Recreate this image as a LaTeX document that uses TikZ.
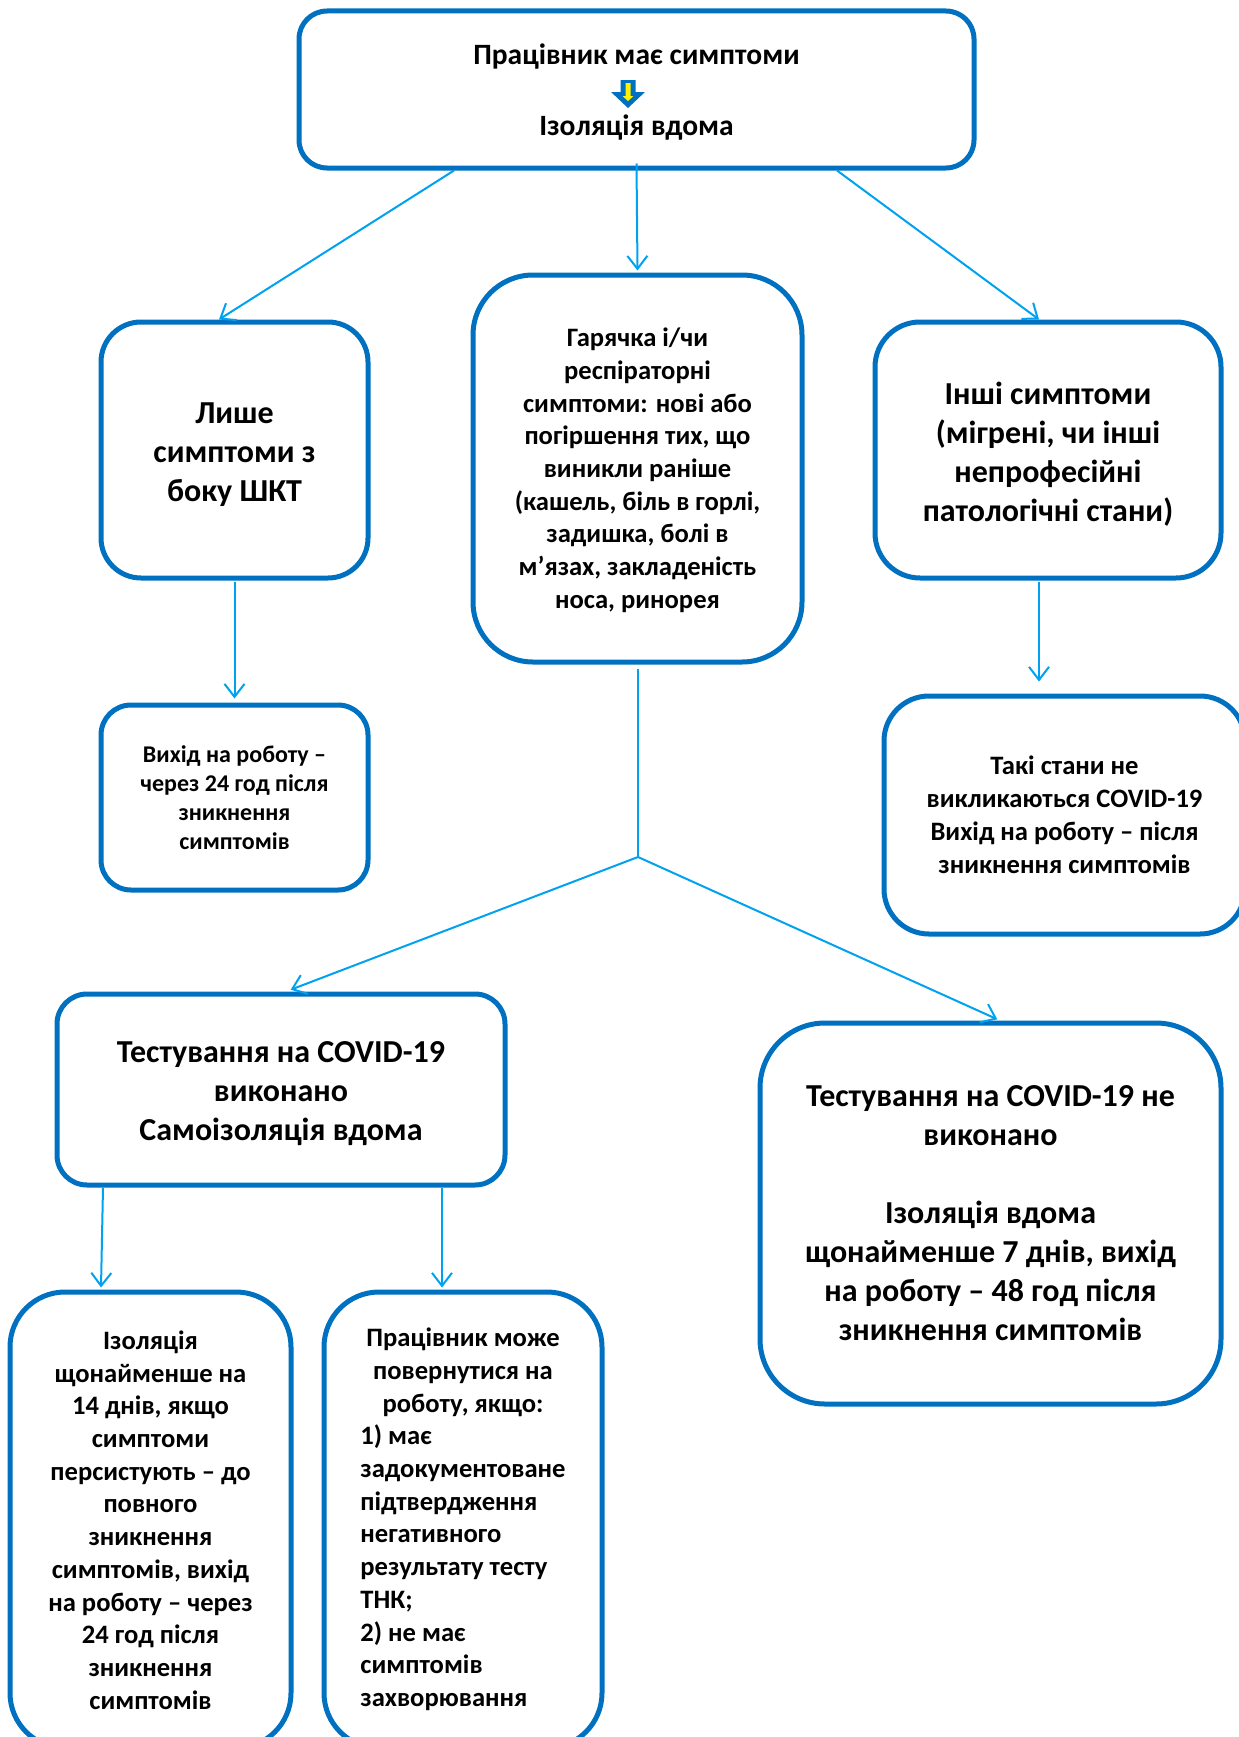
\documentclass[tikz,border=0pt]{standalone}
\usepackage{fontspec}
\setmainfont{Carlito}
\usetikzlibrary{arrows.meta}
\definecolor{boxblue}{RGB}{0,112,192}
\definecolor{linkblue}{RGB}{0,162,240}
\tikzset{
  box/.style={draw=boxblue, line width=5pt, rounded corners=#1, fill=white,
    align=center, inner sep=0pt},
  conn/.style={draw=linkblue, line width=2pt},
  arr/.style={conn, -{Straight Barb[length=13pt,width=20pt]}},
  bigtext/.style={font=\bfseries\fontsize{32}{39}\selectfont},
  midtext/.style={font=\bfseries\fontsize{26.6}{32.7}\selectfont},
  smalltext/.style={font=\bfseries\fontsize{24}{29}\selectfont},
}
\begin{document}
\begin{tikzpicture}[x=1pt,y=-1pt]
\path[use as bounding box] (0,0) rectangle (1239,1737);
\clip (0,0) rectangle (1239,1737);

% header box
\node[box=28pt, minimum width=675pt, minimum height=157pt,
      font=\bfseries\fontsize{29.5}{71}\selectfont] (top) at (636.5,89.5)
  {\rule{0pt}{25pt}Працівник має симптоми\\Ізоляція вдома};
\fill[boxblue] (620.5,80) -- (635.5,80) -- (635.5,92) -- (645,92) -- (628,108)
  -- (611,92) -- (620.5,92) -- cycle;
\fill[yellow] (625.5,83) -- (630.5,83) -- (630.5,96) -- (633.5,96) -- (628,101)
  -- (622.5,96) -- (625.5,96) -- cycle;

% symptom groups
\node[box=40pt, bigtext, minimum width=267pt, minimum height=256pt] (gi) at (234.5,450)
  {\rule{0pt}{30pt}Лише\\симптоми з\\боку ШКТ};
\node[box=60pt, midtext, minimum width=329pt, minimum height=387pt] (mid) at (637.5,468.5)
  {\rule{0pt}{22pt}Гарячка і/чи\\респіраторні\\симптоми: нові або\\погіршення тих, що\\виникли раніше\\(кашель, біль в горлі,\\задишка, болі в\\м’язах, закладеність\\носа, ринорея};
\node[box=45pt, bigtext, minimum width=346pt, minimum height=256pt] (other) at (1048,450)
  {\rule{0pt}{31pt}Інші симптоми\\(мігрені, чи інші\\непрофесійні\\патологічні стани)};

% outcomes of the side groups
\node[box=30pt, smalltext, minimum width=267pt, minimum height=185pt] (giout) at (234.5,797.5)
  {Вихід на роботу –\\через 24 год після\\зникнення\\симптомів};
\node[box=45pt, font=\bfseries\fontsize{26.6}{33}\selectfont, minimum width=361pt, minimum height=238pt] (otherout) at (1064.5,815)
  {Такі стани не\\викликаються COVID-19\\Вихід на роботу – після\\зникнення симптомів};

% testing branches
\node[box=30pt, bigtext, minimum width=448pt, minimum height=191pt] (tested) at (281,1089.5)
  {\rule{0pt}{29pt}Тестування на COVID-19\\виконано\\Самоізоляція вдома};
\node[box=65pt, bigtext, minimum width=461pt, minimum height=381pt] (untested) at (990.5,1213.5)
  {Тестування на COVID-19 не\\виконано\\[39pt]Ізоляція вдома\\щонайменше 7 днів, вихід\\на роботу – 48 год після\\зникнення симптомів};

% results of testing
\node[box=55pt, midtext, minimum width=281pt, minimum height=456pt] (isol) at (150.5,1520)
  {Ізоляція\\щонайменше на\\14 днів, якщо\\симптоми\\персистують – до\\повного\\зникнення\\симптомів, вихід\\на роботу – через\\24 год після\\зникнення\\симптомів};
\node[box=55pt, midtext, minimum width=278pt, minimum height=456pt] (back) at (463,1520)
  {\begin{tabular}{@{}l@{}}
   \multicolumn{1}{@{}c@{}}{Працівник може}\\
   \multicolumn{1}{@{}c@{}}{повернутися на}\\
   \multicolumn{1}{@{}c@{}}{роботу, якщо:}\\
   1) має\\
   задокументоване\\
   підтвердження\\
   негативного\\
   результату тесту\\
   ТНК;\\
   2) не має\\
   симптомів\\
   захворювання
   \end{tabular}};

% connectors
\coordinate (split) at (638,857);
\draw[arr] ([xshift=-182.5pt]top.south) -- ([xshift=-15.5pt]gi.north);
\draw[arr] ([yshift=7pt]top.south) -- ([yshift=2pt]mid.north);
\draw[arr] ([xshift=200.5pt]top.south) -- ([xshift=-9pt]other.north);
\draw[arr, shorten >=4pt] ([yshift=-1pt]gi.south) -- (giout.north);
\draw[arr, shorten >=12pt] ([xshift=-9pt,yshift=-1pt]other.south) -- ([xshift=-25.5pt]otherout.north);
\draw[conn] ([xshift=0.5pt,yshift=-4pt]mid.south) -- (split);
\draw[arr, shorten >=5pt] (split) -- ([xshift=5pt]tested.north);
\draw[arr, shorten >=3pt] (split) -- ([xshift=9.5pt]untested.north);
\draw[arr] ([xshift=-178pt]tested.south) -- ([xshift=-49.5pt,yshift=2pt]isol.north);
\draw[arr] ([xshift=161pt]tested.south) -- ([xshift=-21pt,yshift=2pt]back.north);
\end{tikzpicture}
\end{document}
